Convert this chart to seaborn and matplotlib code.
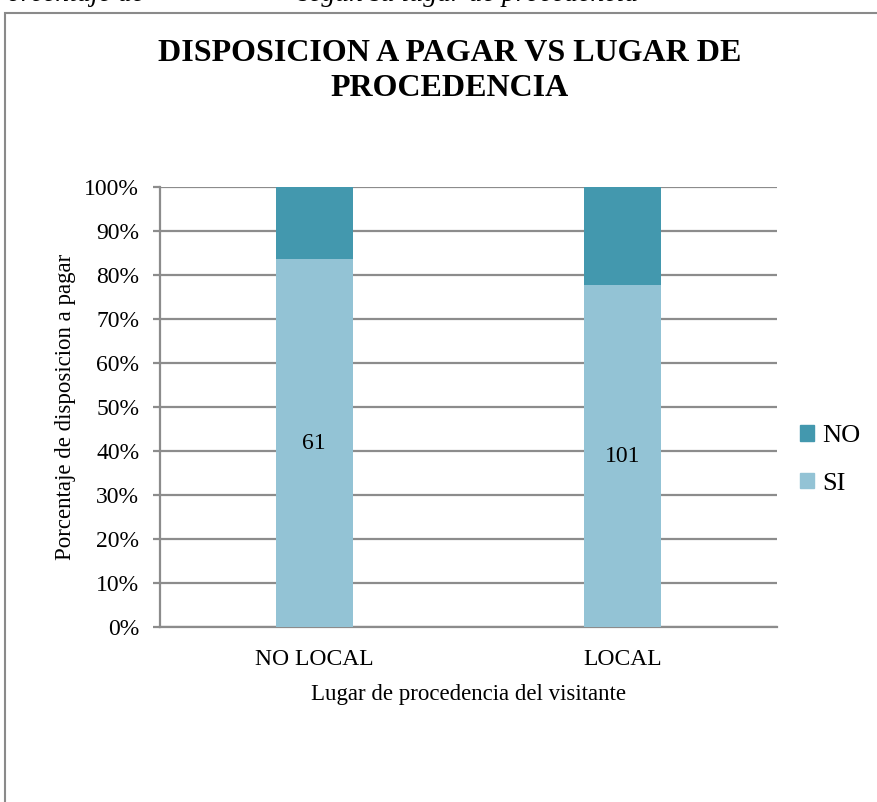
import matplotlib
matplotlib.use("Agg")
import matplotlib.pyplot as plt
import matplotlib.patches as mpatches
import seaborn as sns
import pandas as pd
from matplotlib.ticker import PercentFormatter

# data
places = ["NO LOCAL", "LOCAL"]
si_counts = [61, 101]
no_counts = [12, 29]

NO_COLOR = "#4398AE"
SI_COLOR = "#93C3D5"
GRID = "#8c8c8c"

df = pd.DataFrame({"place": places, "si": si_counts, "no": no_counts})
df["total"] = df["si"] + df["no"]
df["si_pct"] = df["si"] / df["total"] * 100
df["all_pct"] = 100.0

sns.set_theme(style="white")
plt.rcParams["font.family"] = ["Liberation Serif", "DejaVu Serif"]
plt.rcParams["text.color"] = "black"
plt.rcParams["axes.labelcolor"] = "black"
plt.rcParams["xtick.color"] = "black"
plt.rcParams["ytick.color"] = "black"

fig = plt.figure(figsize=(8.77, 8.02), dpi=100)
ax = fig.add_axes([160 / 877, 1 - 627 / 802, 617 / 877, 440 / 802])

# stacked: full bar in NO colour, SI share drawn over it
sns.barplot(data=df, x="place", y="all_pct", color=NO_COLOR, width=0.25,
            saturation=1, linewidth=0, ax=ax, zorder=3)
sns.barplot(data=df, x="place", y="si_pct", color=SI_COLOR, width=0.25,
            saturation=1, linewidth=0, ax=ax, zorder=3)

for i, row in df.iterrows():
    ax.text(i, row["si_pct"] / 2, str(row["si"]), ha="center", va="center",
            fontsize=17, color="black", zorder=4)

ax.set_xlim(-0.5, 1.5)
ax.set_ylim(0, 100)
ax.set_yticks(range(0, 101, 10))
ax.yaxis.set_major_formatter(PercentFormatter(decimals=0))
ax.grid(axis="y", color=GRID, linewidth=1.6, zorder=0)
ax.set_axisbelow(True)
for s in ["top", "right"]:
    ax.spines[s].set_visible(False)
ax.spines["left"].set_color(GRID)
ax.spines["left"].set_linewidth(1.6)
ax.spines["bottom"].set_color(GRID)
ax.spines["bottom"].set_linewidth(1.6)
ax.tick_params(axis="y", length=5, width=1.6, color=GRID, pad=10,
               labelsize=17, left=True, labelcolor="black")
ax.tick_params(axis="x", length=0, pad=16, labelsize=17, labelcolor="black")
ax.set_xlabel("Lugar de procedencia del visitante", fontsize=16.5, labelpad=10)
ax.set_ylabel("Porcentaje de disposicion a pagar", fontsize=16.5, labelpad=6)

handles = [mpatches.Patch(color=NO_COLOR, label="NO"),
           mpatches.Patch(color=SI_COLOR, label="SI")]
fig.legend(handles=handles, loc="center left",
           bbox_to_anchor=(776 / 877, 1 - 460 / 802), frameon=False,
           fontsize=19, handlelength=0.55, handleheight=0.55,
           handletextpad=0.3, labelspacing=0.95)

fig.text(450 / 877, 1 - 71 / 802,
         "DISPOSICION A PAGAR VS LUGAR DE\nPROCEDENCIA",
         ha="center", va="center", fontsize=23, fontweight="bold",
         linespacing=1.25)

# caption of the page, cut off at the top edge
fig.text(-10 / 877, 1 - 1 / 802,
         "Porcentaje de                      según su lugar de procedencia",
         ha="left", va="baseline", fontsize=20, style="italic")

# outer chart frame
fig.patches.append(mpatches.Rectangle((5 / 877, -0.1), 2, 1.1 - 13 / 802,
                                      transform=fig.transFigure, fill=False,
                                      edgecolor="#8a8a8a", linewidth=1.5))

fig.savefig("out.png", dpi=100)
